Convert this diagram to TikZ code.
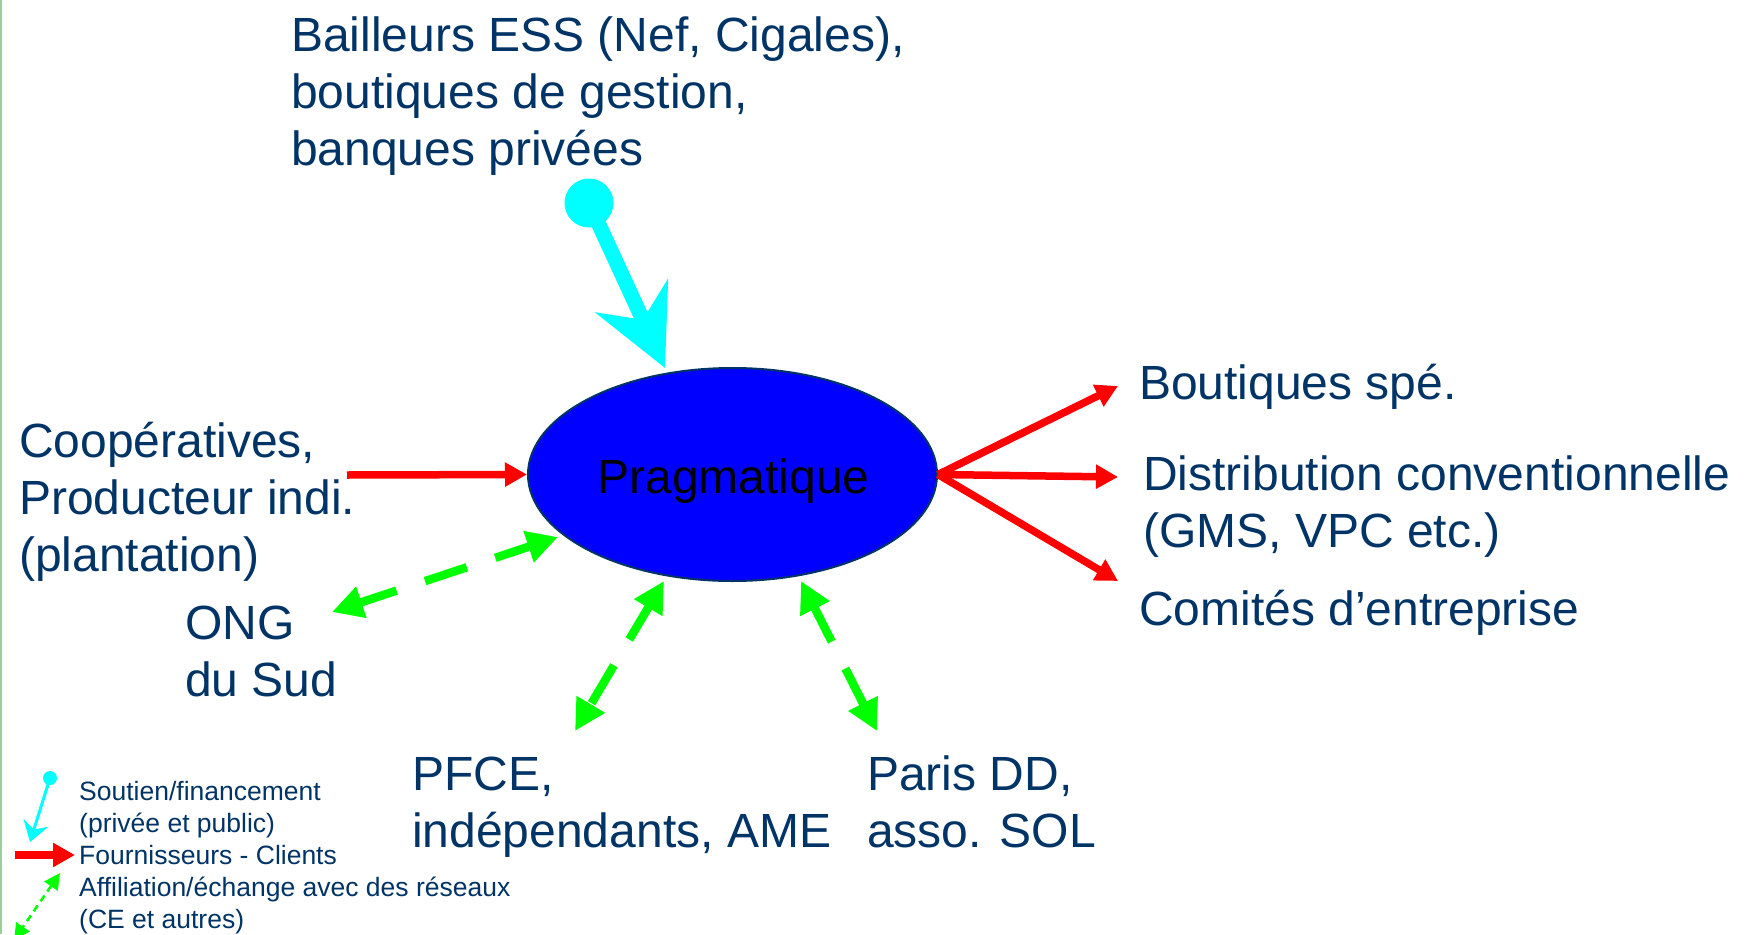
\documentclass[tikz,border=0pt]{standalone}
\usepackage{fontspec}
\setmainfont{Liberation Sans}
\usetikzlibrary{shapes.geometric,arrows.meta}
\definecolor{navy}{RGB}{0,51,102}
\definecolor{cyanc}{RGB}{0,255,255}
\definecolor{redc}{RGB}{255,0,0}
\definecolor{greenc}{RGB}{0,255,0}
\definecolor{borderg}{RGB}{155,208,155}
\definecolor{bluefill}{RGB}{0,0,255}
\begin{document}
\begin{tikzpicture}[x=1pt,y=-1pt,
  big/.style={text=navy,font=\fontsize{48}{57.4}\selectfont,align=left,inner sep=0pt,anchor=base west},
  small/.style={text=navy,font=\fontsize{26.5}{32}\selectfont,align=left,inner sep=0pt,anchor=base west},
  redarrow/.style={draw=redc,line width=7.5pt,-{Triangle[length=22pt,width=23pt]}},
  greenarrow/.style={draw=greenc,line width=8.5pt,{Triangle[length=31pt,width=31pt]}-{Triangle[length=31pt,width=31pt]},dash pattern=on 44pt off 30pt,dash phase=5pt},
  dotstyle/.style={circle,fill=cyanc,inner sep=0pt},
]
\useasboundingbox (0,0) rectangle (1747,934);
\fill[white] (0,0) rectangle (1747,934);
\draw[borderg,line width=1.5pt] (0.75,0) -- (0.75,934);

% central ellipse
\node[ellipse,draw=navy,line width=2pt,fill=bluefill,minimum width=409pt,minimum height=213pt,inner sep=0pt] (prag) at (732.5,474.5) {};
\node[font=\fontsize{48}{57.4}\selectfont,anchor=base,inner sep=0pt] (pragtext) at (733.5,493) {Pragmatique};

% top (anchor = baseline of the last line)
\node[big] (bailleurs) at (291,165.8) {Bailleurs ESS (Nef, Cigales),\\boutiques de gestion,\\banques privées};
\node[dotstyle,minimum size=49pt] (dot) at (589,203) {};
\coordinate (cyantip) at (665,368);
\draw[cyanc,line width=15pt,-{Stealth[length=79pt,width=79pt,inset=26pt]}] (dot.center) -- (cyantip);

% left
\node[big] (coop) at (19,571.8) {Coopératives,\\Producteur indi.\\(plantation)};
\coordinate (coopout) at (347,475);
\draw[redarrow] (coopout) -- (prag.west);

% right
\node[big] (boutiques) at (1139,399) {Boutiques spé.};
\node[big] (distrib) at (1143,547.4) {Distribution conventionnelle\\(GMS, VPC etc.)};
\node[big] (comites) at (1139,625) {Comités d’entreprise};
\coordinate (tipB) at (1118,386);
\coordinate (tipD) at (1118,477);
\coordinate (tipC) at (1118,581);
\draw[redarrow] (prag.east) -- (tipB);
\draw[redarrow] (prag.east) -- (tipD);
\draw[redarrow] (prag.east) -- (tipC);

% green links
\node[big] (ong) at (185,696.9) {ONG\\du Sud};
\coordinate (ongend) at (332,612);
\coordinate (ongell) at (558,537);
\draw[greenarrow] (ongend) -- (ongell);

\node[big] (pfce) at (412,847.4) {PFCE,\\indépendants, AME};
\coordinate (pfceell) at (664,581);
\coordinate (pfceend) at (575,731);
\draw[greenarrow] (pfceell) -- (pfceend);

\node[big] (paris) at (867,847.4) {Paris DD,\\asso. SOL};
\coordinate (parisell) at (801,581);
\coordinate (parisend) at (877,731);
\draw[greenarrow] (parisell) -- (parisend);

% legend
\node[small] (leg) at (79,928) {Soutien/financement\\(privée et public)\\Fournisseurs - Clients\\Affiliation/échange avec des réseaux\\(CE et autres)};
\node[dotstyle,minimum size=14pt] (ldot) at (50,778) {};
\coordinate (ltipc) at (30,842);
\draw[cyanc,line width=3pt,-{Stealth[length=20pt,width=26pt,inset=7pt]}] (ldot.center) -- (ltipc);
\coordinate (lreds) at (15,855);
\coordinate (lrede) at (75,855);
\draw[redarrow] (lreds) -- (lrede);
\coordinate (lga) at (60,873);
\coordinate (lgb) at (14,940);
\draw[greenc,line width=2.5pt,dash pattern=on 7pt off 5pt,{Triangle[length=16pt,width=16pt]}-{Triangle[length=16pt,width=16pt]}] (lga) -- (lgb);
\end{tikzpicture}
\end{document}
